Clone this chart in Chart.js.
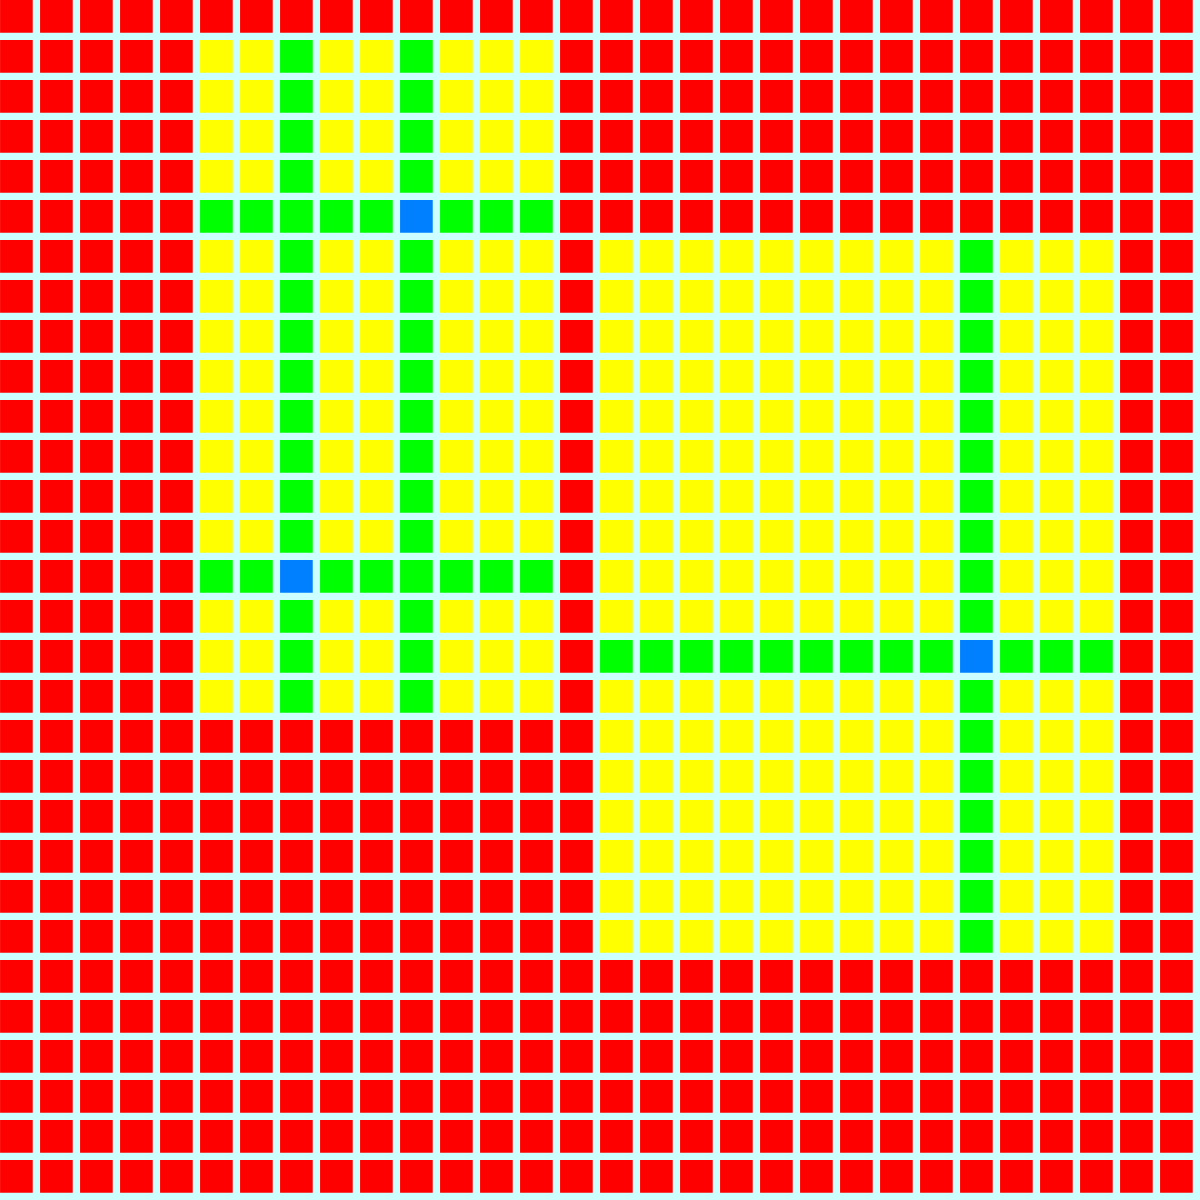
<!DOCTYPE html>
<html>
<head>
<meta charset="utf-8">
<script src="https://cdn.jsdelivr.net/npm/chart.js@4"></script>
<style>
  html, body { margin: 0; padding: 0; background: #ccffff; }
  #wrap { width: 1200px; height: 1200px; }
  canvas { display: block; }
</style>
</head>
<body>
<div id="wrap"><canvas id="c" width="1200" height="1200"></canvas></div>
<script>
// Cell categories per row (0 = red, 1 = yellow, 2 = green, 3 = blue)
const gridRows = [
  "000000000000000000000000000000",
  "000001121121110000000000000000",
  "000001121121110000000000000000",
  "000001121121110000000000000000",
  "000001121121110000000000000000",
  "000002222232220000000000000000",
  "000001121121110111111111211100",
  "000001121121110111111111211100",
  "000001121121110111111111211100",
  "000001121121110111111111211100",
  "000001121121110111111111211100",
  "000001121121110111111111211100",
  "000001121121110111111111211100",
  "000001121121110111111111211100",
  "000002232222220111111111211100",
  "000001121121110111111111211100",
  "000001121121110222222222322200",
  "000001121121110111111111211100",
  "000000000000000111111111211100",
  "000000000000000111111111211100",
  "000000000000000111111111211100",
  "000000000000000111111111211100",
  "000000000000000111111111211100",
  "000000000000000111111111211100",
  "000000000000000000000000000000",
  "000000000000000000000000000000",
  "000000000000000000000000000000",
  "000000000000000000000000000000",
  "000000000000000000000000000000",
  "000000000000000000000000000000"
];
const categoryNames = ["0", "1", "2", "3"];
const categoryColors = ["#ff0000", "#ffff00", "#00ff00", "#0080ff"];

const datasets = categoryNames.map((name, k) => {
  const pts = [];
  gridRows.forEach((row, r) => {
    for (let c = 0; c < row.length; c++) {
      if (Number(row[c]) === k) pts.push({ x: c, y: r });
    }
  });
  return {
    label: name,
    data: pts,
    pointStyle: 'rect',
    pointRadius: 23.1,
    pointHoverRadius: 23.1,
    pointBorderWidth: 0,
    borderWidth: 0,
    backgroundColor: categoryColors[k],
    pointBackgroundColor: categoryColors[k],
    clip: false
  };
});

const bgPlugin = {
  id: 'bg',
  beforeDraw(chart) {
    const ctx = chart.ctx;
    ctx.save();
    ctx.fillStyle = '#ccffff';
    ctx.fillRect(0, 0, chart.width, chart.height);
    ctx.restore();
  }
};

new Chart(document.getElementById('c'), {
  type: 'scatter',
  data: { datasets },
  options: {
    responsive: false,
    animation: false,
    events: [],
    layout: { padding: 0, autoPadding: false },
    plugins: { legend: { display: false }, tooltip: { enabled: false } },
    scales: {
      x: { type: 'linear', display: false, min: -0.41, max: 29.59 },
      y: { type: 'linear', display: false, min: -0.41, max: 29.59, reverse: true }
    }
  },
  plugins: [bgPlugin]
});
</script>
</body>
</html>
